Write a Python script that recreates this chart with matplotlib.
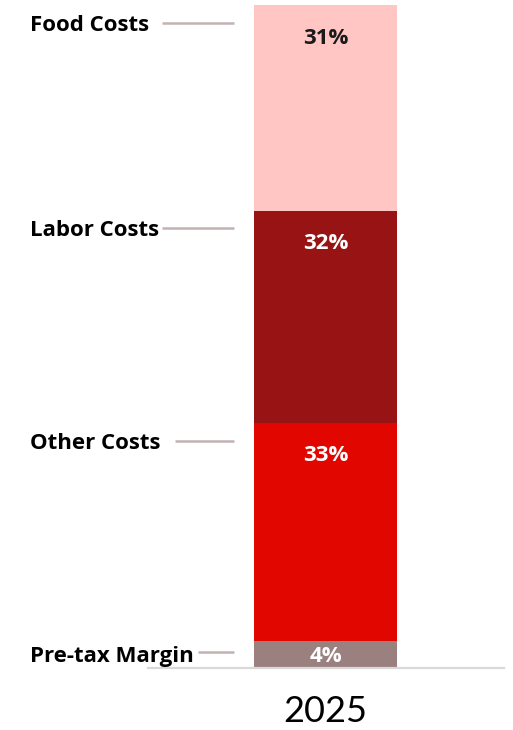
import matplotlib
matplotlib.use("Agg")
import matplotlib.pyplot as plt

categories = ["Pre-tax Margin", "Other Costs", "Labor Costs", "Food Costs"]
values = [4, 33, 32, 31]
pct_labels = ["4%", "33%", "32%", "31%"]
year = "2025"

colors = ["#9b8080", "#e10600", "#981414", "#ffc6c4"]
pct_colors = ["white", "white", "white", "#1a1a1a"]
leader_start_px = [198, 175, 162, 162]

W, H = 513, 730
fig = plt.figure(figsize=(W / 100, H / 100), dpi=100)
bar_left, bar_right = 254, 397
bar_w_px = bar_right - bar_left
cx = (bar_left + bar_right) / 2
ax_bottom_px, ax_top_px = 668, 5
ax = fig.add_axes([0, (H - ax_bottom_px) / H, 1, (ax_bottom_px - ax_top_px) / H])
ax.set_xlim(-cx / bar_w_px, (W - cx) / bar_w_px)
ax.set_ylim(0, sum(values))
ax.axis("off")

font = "Open Sans"
bottom = 0
for cat, v, c, lab, pc, lx in zip(categories, values, colors, pct_labels, pct_colors, leader_start_px):
    ax.bar(0, v, width=1.0, bottom=bottom, color=c, edgecolor="none")
    top = bottom + v
    if v < 8:
        base_y = bottom + 0.9
        line_y = bottom + v / 2 + 0.4
        py = bottom + v / 2 - 0.2
    else:
        base_y = top - 3.9
        line_y = top - 2.7
        py = top - 5.0
    ax.text(0, py, lab, ha="center", va="center", color=pc, fontsize=16,
            fontweight="bold", family=font)
    ax.text((30 - cx) / bar_w_px, base_y, cat, ha="left", va="baseline", color="black",
            fontsize=16, fontweight="bold", family=font)
    ax.plot([(lx - cx) / bar_w_px, (234 - cx) / bar_w_px], [line_y, line_y],
            color="#c2b2b2", lw=1.8, solid_capstyle="butt", clip_on=False)
    bottom = top

ax.plot([(148 - cx) / bar_w_px, (504 - cx) / bar_w_px], [0, 0], color="#d9d9d9",
        lw=1.6, clip_on=False)
ax.text(0, -6.6, year, ha="center", va="center", fontsize=26, family="Lato", color="black")

fig.savefig("out.png", dpi=100)
